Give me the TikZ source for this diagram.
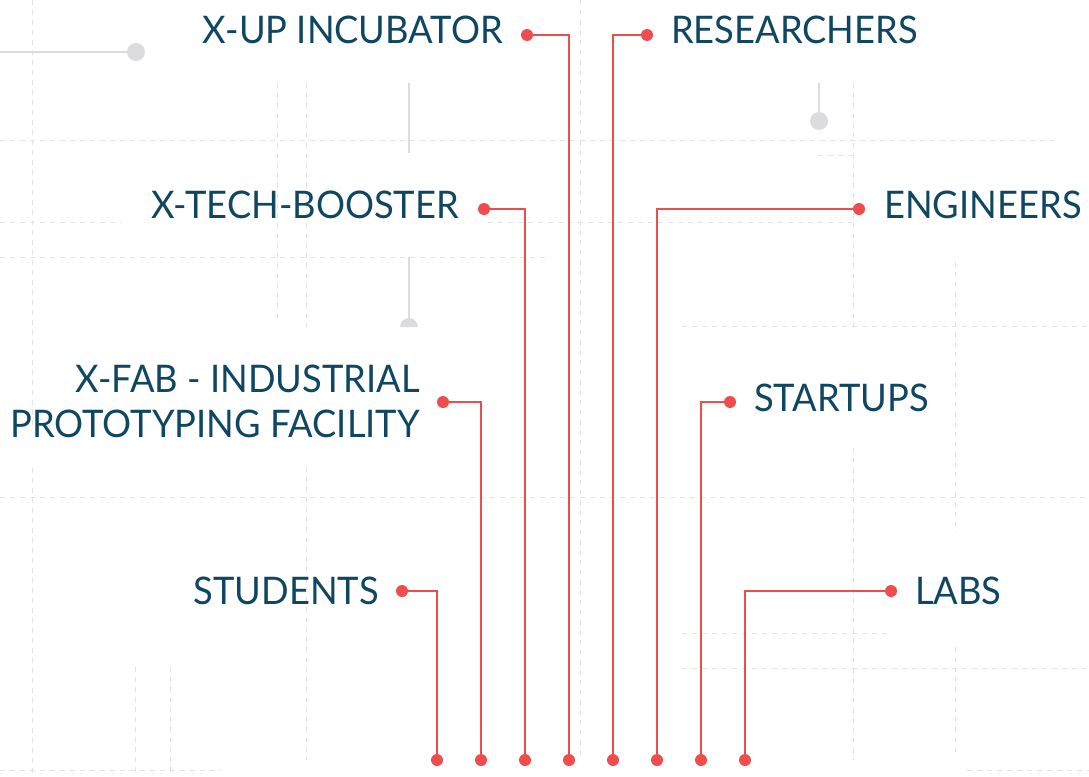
\documentclass[tikz,border=0pt]{standalone}
\usepackage{fontspec}
\setmainfont[FakeStretch=0.955]{Lato}
\usetikzlibrary{positioning}
\definecolor{labelblue}{HTML}{0F4662}
\definecolor{wirered}{HTML}{EE4D4D}
\definecolor{gridgrey}{HTML}{E3E3E3}
\definecolor{knobgrey}{HTML}{DCDCDF}

\begin{document}
\begin{tikzpicture}[x=1pt, y=-1pt,
	lbl/.style = {text=labelblue, font=\fontsize{38}{45}\selectfont, inner sep=0pt},
	reddot/.style = {circle, fill=wirered, inner sep=0pt, minimum size=12pt},
	wire/.style = {draw=wirered, line width=2.4pt},
	bgline/.style = {draw=gridgrey, line width=1pt, dash pattern=on 5pt off 5pt},
	knob/.style = {circle, fill=knobgrey, inner sep=0pt, minimum size=18pt},
	stem/.style = {draw=knobgrey, line width=2pt}]
	\useasboundingbox (0,0) rectangle (1089,776);

	% background grid
	\draw[bgline] (32,0) -- (32,428);
	\draw[bgline] (32,468) -- (32,776);
	\draw[bgline] (277,83) -- (277,320);
	\draw[bgline] (306,83) -- (306,327);
	\draw[bgline] (306,467) -- (306,760);
	\draw[bgline] (580,0) -- (580,760);
	\draw[bgline] (853,83) -- (853,327);
	\draw[bgline] (853,448) -- (853,760);
	\draw[bgline] (955,262) -- (955,533);
	\draw[bgline] (955,647) -- (955,753);
	\draw[bgline] (135,667) -- (135,776);
	\draw[bgline] (170,667) -- (170,776);
	\draw[bgline] (0,140) -- (1060,140);
	\draw[bgline] (0,222) -- (121,222);
	\draw[bgline] (488,222) -- (852,222);
	\draw[bgline] (0,257) -- (550,257);
	\draw[bgline] (818,155) -- (853,155);
	\draw[bgline] (682,326) -- (1089,326);
	\draw[bgline] (0,497) -- (1089,497);
	\draw[bgline] (682,633) -- (888,633);
	\draw[bgline] (682,668) -- (1089,668);
	\draw[bgline] (0,770) -- (221,770);
	\draw[bgline] (967,770) -- (1089,770);

	% grey knobs
	\node[knob] (knobleft) at (136,52) {};
	\coordinate (knobleftend) at (0,52);
	\draw[stem] (knobleftend) -- (knobleft);
	\node[knob] (knobright) at (819,121) {};
	\coordinate (knobrightend) at (819,83);
	\draw[stem] (knobrightend) -- (knobright);
	\draw[stem] (409,83) -- (409,153);
	\draw[stem] (409,257) -- (409,327);
	\fill[knobgrey] (418,327) arc[start angle=0, end angle=-180, radius=9] -- cycle;

	% bottom dots
	\node[reddot] (b1) at (437,760) {};
	\node[reddot] (b2) at (481,760) {};
	\node[reddot] (b3) at (525,760) {};
	\node[reddot] (b4) at (569,760) {};
	\node[reddot] (b5) at (613,760) {};
	\node[reddot] (b6) at (657,760) {};
	\node[reddot] (b7) at (701,760) {};
	\node[reddot] (b8) at (745,760) {};

	% label dots
	\node[reddot] (xupdot) at (527,35) {};
	\node[reddot] (techdot) at (484,209) {};
	\node[reddot] (fabdot) at (443,402) {};
	\node[reddot] (studdot) at (402,591) {};
	\node[reddot] (resdot) at (647,35) {};
	\node[reddot] (engdot) at (859,209) {};
	\node[reddot] (startdot) at (730,402) {};
	\node[reddot] (labsdot) at (891,591) {};

	\draw[wire] (xupdot.center) -| (b4.center);
	\draw[wire] (techdot.center) -| (b3.center);
	\draw[wire] (fabdot.center) -| (b2.center);
	\draw[wire] (studdot.center) -| (b1.center);
	\draw[wire] (resdot.center) -| (b5.center);
	\draw[wire] (engdot.center) -| (b6.center);
	\draw[wire] (startdot.center) -| (b7.center);
	\draw[wire] (labsdot.center) -| (b8.center);

	% labels
	\node[lbl, anchor=base east] (xup) at (503,44) {X-UP INCUBATOR};
	\node[lbl, anchor=base east] (xtech) at (459,218) {X-TECH-BOOSTER};
	\node[lbl, anchor=base east, align=right] (xfab) at (420,437) {X-FAB - INDUSTRIAL\\PROTOTYPING FACILITY};
	\node[lbl, anchor=base east] (students) at (379,604) {STUDENTS};
	\node[lbl, anchor=base west] (researchers) at (671,44) {RESEARCHERS};
	\node[lbl, anchor=base west] (engineers) at (884,218) {ENGINEERS};
	\node[lbl, anchor=base west] (startups) at (754,411) {STARTUPS};
	\node[lbl, anchor=base west] (labs) at (915,604) {LABS};
\end{tikzpicture}
\end{document}
